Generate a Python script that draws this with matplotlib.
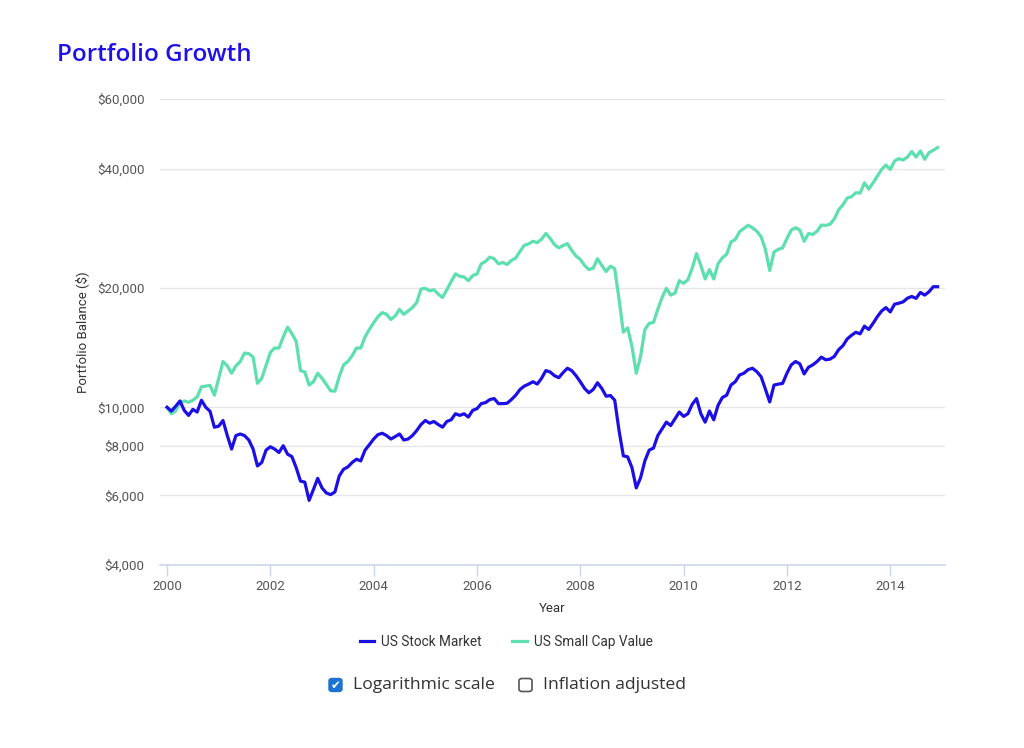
import matplotlib.pyplot as plt
from matplotlib.ticker import FixedLocator, NullLocator
from matplotlib.lines import Line2D
from matplotlib.patches import FancyBboxPatch
import numpy as np

# monthly values, Jan 2000 .. Dec 2014
months = np.arange(180)
years = 2000 + months / 12.0

us_stock_market = [
    10000, 9786, 10060, 10376, 9825, 9541, 9883, 9730, 10420, 10000, 9768, 8909,
    8961, 9264, 8485, 7845, 8485, 8566, 8485, 8270, 7845, 7113, 7256, 7797,
    7953, 7845, 7692, 8000, 7615, 7511, 7045, 6513, 6475, 5824, 6199, 6617,
    6261, 6081, 6021, 6115, 6708, 6976, 7072, 7256, 7396, 7324, 7797, 8046,
    8318, 8534, 8601, 8485, 8318, 8434, 8566, 8270, 8318, 8485, 8737, 9050,
    9264, 9120, 9211, 9050, 8909, 9211, 9301, 9634, 9541, 9634, 9449, 9825,
    9922, 10217, 10280, 10462, 10522, 10217, 10217, 10240, 10462, 10730, 11094, 11315,
    11445, 11604, 11445, 11835, 12380, 12280, 12020, 11880, 12236, 12549, 12380, 12021,
    11604, 11158, 10880, 11094, 11536, 11158, 10668, 10710, 10420, 8737, 7543, 7499,
    7045, 6261, 6641, 7324, 7797, 7890, 8485, 8823, 9175, 8996, 9357, 9730,
    9485, 9637, 10178, 10522, 9637, 9175, 9786, 9301, 10118, 10586, 10730, 11380,
    11604, 12068, 12190, 12450, 12549, 12303, 11950, 11115, 10316, 11380, 11445, 11492,
    12190, 12797, 13050, 12875, 12140, 12622, 12797, 13050, 13390, 13180, 13232, 13440,
    13973, 14306, 14878, 15199, 15468, 15326, 16028, 15720, 16284, 16934, 17502, 17855,
    17406, 18205, 18314, 18458, 18858, 19045, 18830, 19498, 19195, 19574, 20158, 20158,
]

us_small_cap_value = [
    10000, 9637, 9786, 10280, 10376, 10298, 10420, 10624, 11268, 11315, 11359, 10730,
    11835, 13050, 12724, 12190, 12724, 13050, 13710, 13654, 13390, 11492, 11835, 12748,
    13758, 14112, 14112, 15057, 15937, 15355, 14682, 12380, 12284, 11380, 11604, 12190,
    11835, 11424, 11008, 10985, 11950, 12797, 13050, 13493, 14112, 14112, 15057, 15720,
    16352, 16934, 17338, 17170, 16668, 17001, 17676, 17170, 17502, 17855, 18388, 19884,
    19966, 19684, 19806, 19307, 18933, 19806, 20760, 21710, 21417, 21333, 20875, 21501,
    21710, 23025, 23346, 23951, 23714, 23025, 23205, 22935, 23481, 23808, 24760, 25645,
    25847, 26248, 26047, 26558, 27464, 26700, 25750, 25255, 25600, 25900, 24900, 24090,
    23623, 22803, 22274, 22454, 23714, 22803, 22014, 22720, 22364, 18750, 15468, 15875,
    14253, 12190, 13440, 15720, 16284, 16380, 17676, 18933, 19966, 19195, 19424, 20875,
    20560, 20996, 22454, 24430, 22803, 21086, 22274, 21086, 23025, 23855, 24322, 26150,
    26516, 27736, 28280, 28800, 28390, 27830, 26940, 25050, 22140, 24660, 25050, 25255,
    26670, 28010, 28390, 28010, 26248, 27464, 27310, 27830, 28840, 28790, 28960, 29880,
    31500, 32430, 33740, 34000, 34800, 34740, 36850, 35560, 36850, 38330, 39840, 40880,
    39840, 41850, 42420, 42090, 42830, 44200, 42830, 44370, 42250, 43940, 44540, 45250,
]

y_ticks = [4000, 6000, 8000, 10000, 20000, 40000, 60000]
y_tick_labels = ["$4,000", "$6,000", "$8,000", "$10,000", "$20,000", "$40,000", "$60,000"]
x_ticks = [2000, 2002, 2004, 2006, 2008, 2010, 2012, 2014]

blue = "#1c0fe6"
green = "#5ddfb0"
label_col = "#555555"

plt.rcParams['font.family'] = ['Roboto', 'DejaVu Sans']

fig = plt.figure(figsize=(10.24, 7.48), dpi=100)
ax = fig.add_axes([160 / 1024, 1 - 565 / 748, 785 / 1024, 466 / 748])

ax.plot(years, us_small_cap_value, color=green, lw=2.3, solid_joinstyle='round', zorder=3)
ax.plot(years, us_stock_market, color=blue, lw=2.3, solid_joinstyle='round', zorder=4)

ax.set_yscale('log')
ax.set_ylim(4000, 60000)
ax.set_xlim(1999.864, 2015.06)
ax.yaxis.set_major_locator(FixedLocator(y_ticks))
ax.yaxis.set_minor_locator(NullLocator())
ax.set_yticklabels(y_tick_labels)
ax.xaxis.set_major_locator(FixedLocator(x_ticks))
ax.set_xticklabels([str(t) for t in x_ticks])

ax.grid(axis='y', color='#e6e6e6', lw=1)
ax.set_axisbelow(True)
for s in ['top', 'right', 'left']:
    ax.spines[s].set_visible(False)
ax.spines['bottom'].set_color('#ccd6eb')
ax.spines['bottom'].set_linewidth(1.2)
ax.tick_params(axis='y', length=0, pad=11, labelsize=9.5, labelcolor=label_col)
ax.tick_params(axis='x', length=8, width=1, color='#ccd6eb', pad=3,
               labelsize=9.5, labelcolor=label_col)

ax.set_ylabel("Portfolio Balance ($)", fontsize=9.5, color='#333333', labelpad=6)
ax.set_xlabel("Year", fontsize=9.5, color='#333333', labelpad=6)

fig.text(57 / 1024, 1 - 55 / 748, "Portfolio Growth", color='#2010e8',
         fontsize=17.5, fontweight='semibold', family=['Open Sans', 'DejaVu Sans'],
         va='center', ha='left')

# legend
handles = [Line2D([0], [0], color=blue, lw=2.3), Line2D([0], [0], color=green, lw=2.3)]
fig.legend(handles, ["US Stock Market", "US Small Cap Value"], loc='center',
           bbox_to_anchor=(506 / 1024, 1 - 642 / 748), ncol=2, frameon=False,
           fontsize=9.8, handlelength=1.1, handletextpad=0.5, columnspacing=2.2,
           labelcolor='#333333')

# checkboxes under the chart
cy = 1 - 685 / 748
bw, bh = 13 / 1024, 13 / 748
fig.patches.append(FancyBboxPatch((329 / 1024, cy - bh / 2), bw, bh,
                                  boxstyle="round,pad=0,rounding_size=0.003",
                                  transform=fig.transFigure, fc='#1a73d0', ec='#1a73d0'))
fig.text(335.5 / 1024, cy, "\u2714", color='white', fontsize=8.5, ha='center', va='center',
         family='DejaVu Sans')
fig.text(353 / 1024, cy, "Logarithmic scale", fontsize=12.6, color='#333333',
         va='center', ha='left', family=['Open Sans', 'DejaVu Sans'])
fig.patches.append(FancyBboxPatch((519 / 1024, cy - bh / 2), bw, bh,
                                  boxstyle="round,pad=0,rounding_size=0.003",
                                  transform=fig.transFigure, fc='white', ec='#555555', lw=1.2))
fig.text(543 / 1024, cy, "Inflation adjusted", fontsize=12.6, color='#333333',
         va='center', ha='left', family=['Open Sans', 'DejaVu Sans'])

fig.savefig("out.png", dpi=100)
